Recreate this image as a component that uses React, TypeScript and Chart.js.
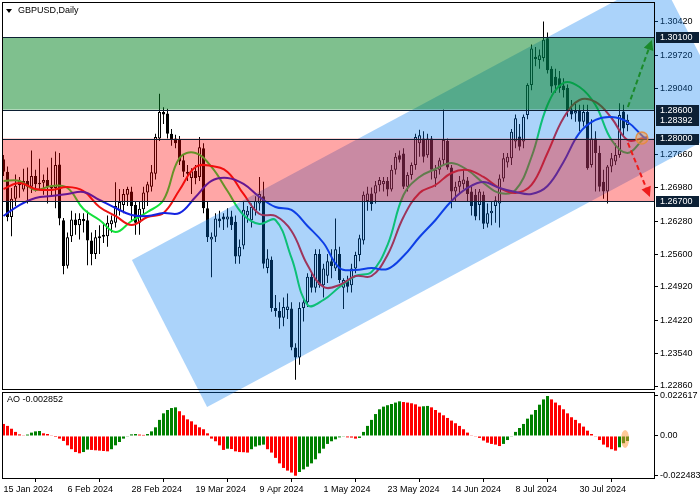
import React, { useEffect, useRef } from 'react';
import { Chart, registerables } from 'chart.js';
Chart.register(...registerables);

const FONT = "'Liberation Sans', Arial, sans-serif";

// ---- Daily candles, GBPUSD (bar 0 = 15 Jan 2024) ----
const opens = [
  1.2757,1.2731,1.2637,1.2675,1.2713,1.2694,1.2712,1.2700,1.2722,1.2705,
  1.2708,1.2714,1.2700,1.2697,1.2746,1.2630,1.2536,1.2597,1.2632,1.2620,
  1.2633,1.2630,1.2588,1.2560,1.2593,1.2600,1.2597,1.2622,1.2625,1.2650,
  1.2662,1.2683,1.2690,1.2662,1.2625,1.2653,1.2688,1.2700,1.2727,1.2800,
  1.2855,1.2852,1.2810,1.2800,1.2797,1.2755,1.2731,1.2718,1.2733,1.2720,
  1.2780,1.2655,1.2590,1.2596,1.2634,1.2638,1.2632,1.2638,1.2627,1.2555,
  1.2578,1.2640,1.2630,1.2650,1.2665,1.2680,1.2531,1.2548,1.2448,1.2442,
  1.2428,1.2444,1.2447,1.2366,1.2345,1.2448,1.2460,1.2513,1.2490,1.2560,
  1.2495,1.2515,1.2545,1.2530,1.2560,1.2490,1.2506,1.2495,1.2530,1.2558,
  1.2588,1.2670,1.2686,1.2686,1.2703,1.2705,1.2712,1.2694,1.2735,1.2765,
  1.2769,1.2700,1.2724,1.2745,1.2790,1.2800,1.2765,1.2800,1.2717,1.2735,
  1.2755,1.2795,1.2740,1.2690,1.2700,1.2705,1.2713,1.2690,1.2683,1.2662,
  1.2683,1.2623,1.2645,1.2660,1.2665,1.2717,1.2750,1.2759,1.2794,1.2804,
  1.2794,1.2849,1.2911,1.2970,1.2963,1.2967,1.3008,1.2945,1.2928,1.2925,
  1.2910,1.2905,1.2860,1.2852,1.2857,1.2835,1.2855,1.2745,1.2800,1.2770,
  1.2710,1.2690,1.2742,1.2752,1.2766,1.2856,1.2828
];
const highs = [
  1.2766,1.2742,1.2697,1.2725,1.2720,1.2737,1.2740,1.2775,1.2735,1.2758,
  1.2725,1.2740,1.2760,1.2773,1.2770,1.2635,1.2605,1.2650,1.2645,1.2645,
  1.2645,1.2650,1.2605,1.2610,1.2620,1.2625,1.2640,1.2640,1.2709,1.2695,
  1.2695,1.2700,1.2700,1.2670,1.2670,1.2700,1.2710,1.2745,1.2810,1.2893,
  1.2865,1.2862,1.2820,1.2808,1.2805,1.2768,1.2745,1.2738,1.2745,1.2803,
  1.2790,1.2670,1.2605,1.2645,1.2650,1.2645,1.2655,1.2650,1.2640,1.2590,
  1.2670,1.2660,1.2665,1.2680,1.2720,1.2710,1.2570,1.2555,1.2475,1.2460,
  1.2470,1.2478,1.2460,1.2375,1.2460,1.2465,1.2520,1.2525,1.2570,1.2570,
  1.2540,1.2560,1.2570,1.2634,1.2575,1.2510,1.2515,1.2540,1.2565,1.2600,
  1.2690,1.2700,1.2698,1.2712,1.2720,1.2720,1.2720,1.2745,1.2770,1.2775,
  1.2780,1.2730,1.2750,1.2810,1.2818,1.2815,1.2810,1.2805,1.2745,1.2760,
  1.2860,1.2800,1.2745,1.2710,1.2722,1.2735,1.2720,1.2700,1.2695,1.2695,
  1.2690,1.2665,1.2670,1.2680,1.2725,1.2770,1.2770,1.2820,1.2850,1.2830,
  1.2850,1.2915,1.2995,1.2990,1.2985,1.3043,1.3020,1.2950,1.2945,1.2940,
  1.2925,1.2912,1.2880,1.2872,1.2870,1.2870,1.2870,1.2840,1.2815,1.2785,
  1.2735,1.2745,1.2770,1.2790,1.2873,1.2870,1.2850
];
const lows = [
  1.2722,1.2628,1.2597,1.2660,1.2677,1.2690,1.2665,1.2687,1.2690,1.2692,
  1.2683,1.2665,1.2680,1.2655,1.2620,1.2518,1.2530,1.2585,1.2600,1.2590,
  1.2605,1.2537,1.2537,1.2550,1.2560,1.2583,1.2575,1.2605,1.2615,1.2640,
  1.2645,1.2660,1.2630,1.2600,1.2600,1.2640,1.2660,1.2690,1.2715,1.2795,
  1.2830,1.2800,1.2785,1.2780,1.2745,1.2720,1.2712,1.2685,1.2705,1.2712,
  1.2645,1.2585,1.2512,1.2585,1.2615,1.2610,1.2615,1.2610,1.2540,1.2540,
  1.2570,1.2625,1.2615,1.2640,1.2650,1.2530,1.2520,1.2440,1.2430,1.2405,
  1.2410,1.2425,1.2360,1.2299,1.2330,1.2420,1.2450,1.2480,1.2480,1.2490,
  1.2470,1.2500,1.2510,1.2525,1.2500,1.2446,1.2480,1.2480,1.2520,1.2545,
  1.2580,1.2650,1.2650,1.2665,1.2690,1.2690,1.2680,1.2690,1.2725,1.2750,
  1.2695,1.2690,1.2715,1.2735,1.2762,1.2750,1.2760,1.2715,1.2700,1.2725,
  1.2745,1.2735,1.2655,1.2670,1.2685,1.2695,1.2670,1.2640,1.2630,1.2630,
  1.2612,1.2615,1.2620,1.2625,1.2615,1.2710,1.2740,1.2745,1.2780,1.2775,
  1.2780,1.2840,1.2900,1.2950,1.2945,1.2960,1.2935,1.2895,1.2895,1.2895,
  1.2885,1.2845,1.2840,1.2835,1.2815,1.2825,1.2735,1.2740,1.2690,1.2690,
  1.2675,1.2665,1.2730,1.2745,1.2760,1.2805,1.2815
];
const closes = [
  1.2731,1.2637,1.2675,1.2702,1.2703,1.2712,1.2700,1.2722,1.2705,1.2708,
  1.2714,1.2700,1.2696,1.2745,1.2634,1.2535,1.2595,1.2632,1.2620,1.2633,
  1.2628,1.2588,1.2560,1.2595,1.2597,1.2596,1.2625,1.2630,1.2660,1.2668,
  1.2685,1.2695,1.2660,1.2625,1.2654,1.2688,1.2705,1.2730,1.2803,1.2855,
  1.2850,1.2810,1.2797,1.2790,1.2752,1.2731,1.2727,1.2732,1.2718,1.2782,
  1.2655,1.2595,1.2596,1.2634,1.2628,1.2632,1.2638,1.2620,1.2555,1.2575,
  1.2652,1.2650,1.2658,1.2670,1.2685,1.2540,1.2551,1.2448,1.2442,1.2428,
  1.2450,1.2451,1.2366,1.2345,1.2448,1.2460,1.2513,1.2490,1.2560,1.2495,
  1.2530,1.2545,1.2535,1.2570,1.2506,1.2506,1.2492,1.2530,1.2558,1.2593,
  1.2683,1.2686,1.2664,1.2703,1.2714,1.2712,1.2694,1.2735,1.2762,1.2756,
  1.2700,1.2724,1.2745,1.2803,1.2807,1.2762,1.2800,1.2735,1.2735,1.2755,
  1.2797,1.2740,1.2690,1.2700,1.2712,1.2715,1.2685,1.2660,1.2638,1.2690,
  1.2623,1.2645,1.2650,1.2672,1.2717,1.2759,1.2762,1.2814,1.2842,1.2783,
  1.2845,1.2911,1.2987,1.2965,1.2973,1.3005,1.2942,1.2908,1.2910,1.2905,
  1.2900,1.2858,1.2850,1.2857,1.2835,1.2855,1.2738,1.2800,1.2770,1.2700,
  1.2690,1.2742,1.2759,1.2766,1.2849,1.2821,1.2839
];

// ---- Alligator lines (read every 4 bars) ----
const lineBars = [0,4,8,12,16,20,24,28,32,36,40,44,48,52,56,60,64,68,72,76,80,84,88,92,96,100,104,108,112,116,120,124,128,132,136,140,144,148,152,156,160,161];
const jaw = [1.26391,1.26619,1.26765,1.26806,1.26848,1.26889,1.26723,1.26557,1.26412,1.26391,1.26453,1.26453,1.26786,1.27118,1.27180,1.27056,1.26786,1.26578,1.26516,1.26183,1.25830,1.25311,1.25270,1.25311,1.25290,1.25560,1.25954,1.26308,1.26702,1.26973,1.27097,1.26973,1.26889,1.26848,1.27014,1.27513,1.28115,1.28385,1.28447,1.28343,1.28032,1.27990];
const teeth = [1.26952,1.27076,1.26952,1.26931,1.26993,1.26910,1.26578,1.26391,1.26204,1.26370,1.26453,1.26931,1.27409,1.27429,1.27305,1.26848,1.26432,1.26391,1.26079,1.25373,1.24917,1.24958,1.25145,1.25145,1.25581,1.26370,1.26869,1.27035,1.27284,1.27346,1.27201,1.26973,1.26869,1.27035,1.27699,1.28426,1.28800,1.28759,1.28426,1.27969,1.28011,1.28030];
const lips = [1.27118,1.27118,1.26931,1.27014,1.26973,1.26536,1.26308,1.26058,1.26287,1.26474,1.26723,1.27596,1.27699,1.27409,1.26910,1.26412,1.26225,1.26308,1.25519,1.24543,1.24647,1.24917,1.25145,1.25228,1.25788,1.26827,1.27201,1.27367,1.27492,1.27346,1.27076,1.26869,1.26931,1.27616,1.28696,1.29153,1.29070,1.28696,1.27969,1.27699,1.27990,1.28030];

// ---- Awesome Oscillator ----
const aoValues = [
  0.0068,0.0057,0.0041,0.0023,0.0009,0.0004,0.0008,0.0019,0.0026,0.0028,
  0.0015,0.0011,0.0004,-0.0006,-0.0015,-0.0028,-0.0053,-0.0075,-0.0091,-0.0098,
  -0.0091,-0.0077,-0.0079,-0.0081,-0.0083,-0.0085,-0.0087,-0.0075,-0.0053,-0.0034,
  -0.0015,-0.0004,0.0009,0.0011,0.0008,0.0006,0.0011,0.0026,0.0049,0.0091,
  0.0128,0.0147,0.0158,0.0162,0.0140,0.0117,0.0094,0.0083,0.0064,0.0049,
  0.0038,0.0015,-0.0015,-0.0030,-0.0053,-0.0079,-0.0072,-0.0074,-0.0087,-0.0091,
  -0.0092,-0.0094,-0.0075,-0.0060,-0.0053,-0.0049,-0.0075,-0.0094,-0.0124,-0.0155,
  -0.0181,-0.0196,-0.0207,-0.022483,-0.0204,-0.0189,-0.0174,-0.0155,-0.0132,-0.0098,
  -0.0072,-0.0045,-0.0030,-0.0019,-0.0008,-0.0004,-0.0008,-0.0009,-0.0015,-0.0011,
  0.0023,0.0057,0.0091,0.0124,0.0151,0.0166,0.0174,0.0181,0.0189,0.0196,
  0.0192,0.0189,0.0185,0.0179,0.0166,0.0168,0.0170,0.0162,0.0147,0.0132,
  0.0117,0.0102,0.0087,0.0072,0.0057,0.0038,0.0019,0.0004,-0.0004,-0.0011,
  -0.0026,-0.0038,-0.0045,-0.0049,-0.0057,-0.0045,-0.0023,-0.0004,0.0023,0.0045,
  0.0068,0.0098,0.0121,0.0147,0.0177,0.0207,0.022617,0.0207,0.0189,0.0174,
  0.0151,0.0128,0.0106,0.0091,0.0072,0.0053,0.0030,0.0011,-0.0004,-0.0023,
  -0.0049,-0.0064,-0.0075,-0.0083,-0.0064,-0.0041,-0.002852
];

// ---- Axes ----
const dateTickBars = [0, 16, 32, 48, 64, 80, 96, 112, 128, 144];
const dateTickLabels = ['15 Jan 2024','6 Feb 2024','28 Feb 2024','19 Mar 2024','9 Apr 2024','1 May 2024','23 May 2024','14 Jun 2024','8 Jul 2024','30 Jul 2024'];
const priceTicks = [1.3042, 1.2972, 1.2904, 1.2766, 1.2698, 1.2628, 1.256, 1.2492, 1.2422, 1.2354, 1.2286];
const aoTicks = [0.022617, 0, -0.022483];
const aoTickLabels = ['0.022617', '0.00', '-0.022483'];
const aoCurrentLabel = 'AO -0.002852';
const titleText = 'GBPUSD,Daily';

// ---- Drawn objects (data coordinates) ----
const levelPrices = [1.301, 1.286, 1.28, 1.267];
const markedPrices = [1.301, 1.286, 1.28392, 1.28, 1.267];
const greenZone = [1.286, 1.301];
const redZone = [1.267, 1.28];
const channelBars = [32.1, 50.9, 182.9, 164.1];
const channelPrices = [1.25477, 1.22424, 1.28302, 1.31355];
const upArrowBars = [156.1, 162.1];
const upArrowPrices = [1.28655, 1.30046];
const downArrowBars = [156.1, 161.6];
const downArrowPrices = [1.27907, 1.26786];
const markerBar = 159.6;
const markerPrice = 1.2801;
const aoMarkerBar = 155.4;
const aoMarkerValue = -0.0017;

const PRICE_MIN = 1.22777, PRICE_MAX = 1.30835;
const AO_MIN = -0.02435, AO_MAX = 0.02488;
const BAR_MIN = -0.375, BAR_MAX = 162.625;

function drawArrow(ctx: CanvasRenderingContext2D, x1: number, y1: number, x2: number, y2: number, color: string) {
  const ang = Math.atan2(y2 - y1, x2 - x1);
  const head = 10;
  const bx = x2 - head * Math.cos(ang), by = y2 - head * Math.sin(ang);
  ctx.save();
  ctx.strokeStyle = color;
  ctx.lineWidth = 2;
  ctx.setLineDash([5, 3]);
  ctx.beginPath();
  ctx.moveTo(x1, y1);
  ctx.lineTo(bx, by);
  ctx.stroke();
  ctx.setLineDash([]);
  ctx.fillStyle = color;
  ctx.beginPath();
  ctx.moveTo(x2, y2);
  ctx.lineTo(bx + 5 * Math.sin(ang), by - 5 * Math.cos(ang));
  ctx.lineTo(bx - 5 * Math.sin(ang), by + 5 * Math.cos(ang));
  ctx.closePath();
  ctx.fill();
  ctx.restore();
}

const overlayPlugin = {
  id: 'mainOverlay',
  afterDatasetsDraw(chart: any) {
    const { ctx, chartArea: a } = chart;
    const xs = chart.scales.x, ys = chart.scales.y;
    const px = (b: number) => xs.getPixelForValue(b);
    const py = (p: number) => ys.getPixelForValue(p);
    ctx.save();
    // regression channel
    ctx.beginPath();
    channelBars.forEach((b, k) => {
      const X = px(b), Y = py(channelPrices[k]);
      if (k === 0) ctx.moveTo(X, Y); else ctx.lineTo(X, Y);
    });
    ctx.closePath();
    ctx.fillStyle = 'rgba(0,120,240,0.33)';
    ctx.fill();

    ctx.save();
    ctx.beginPath();
    ctx.rect(a.left, a.top, a.right - a.left, a.bottom - a.top);
    ctx.clip();
    ctx.fillStyle = 'rgba(0,130,30,0.5)';
    ctx.fillRect(a.left, py(greenZone[1]), a.right - a.left, py(greenZone[0]) - py(greenZone[1]));
    ctx.fillStyle = 'rgba(255,0,0,0.35)';
    ctx.fillRect(a.left, py(redZone[1]), a.right - a.left, py(redZone[0]) - py(redZone[1]));
    ctx.strokeStyle = '#0c1f33';
    ctx.lineWidth = 1;
    levelPrices.forEach((p) => {
      const Y = Math.round(py(p)) + 0.5;
      ctx.beginPath();
      ctx.moveTo(a.left, Y);
      ctx.lineTo(a.right, Y);
      ctx.stroke();
    });
    drawArrow(ctx, px(upArrowBars[0]), py(upArrowPrices[0]), px(upArrowBars[1]), py(upArrowPrices[1]), '#1a8a2a');
    drawArrow(ctx, px(downArrowBars[0]), py(downArrowPrices[0]), px(downArrowBars[1]), py(downArrowPrices[1]), '#ee1c1c');
    ctx.beginPath();
    ctx.arc(px(markerBar), py(markerPrice), 6, 0, Math.PI * 2);
    ctx.fillStyle = 'rgba(255,150,60,0.45)';
    ctx.fill();
    ctx.strokeStyle = 'rgba(230,140,60,0.9)';
    ctx.lineWidth = 1.5;
    ctx.stroke();
    ctx.restore();
    ctx.restore();
  },
  afterDraw(chart: any) {
    const { ctx, chartArea: a } = chart;
    const ys = chart.scales.y;
    ctx.save();
    ctx.strokeStyle = '#000';
    ctx.lineWidth = 1;
    ctx.strokeRect(a.left + 0.5, a.top + 0.5, a.right - a.left, a.bottom - a.top - 1);
    // title
    ctx.fillStyle = '#000';
    ctx.beginPath();
    ctx.moveTo(a.left + 4, a.top + 7);
    ctx.lineTo(a.left + 10, a.top + 7);
    ctx.lineTo(a.left + 7, a.top + 11);
    ctx.closePath();
    ctx.fill();
    ctx.font = `9px ${FONT}`;
    ctx.textBaseline = 'middle';
    ctx.textAlign = 'left';
    ctx.fillText(titleText, a.left + 16, a.top + 9);
    // marked price labels
    markedPrices.forEach((p) => {
      const Y = ys.getPixelForValue(p);
      ctx.fillStyle = '#0c2035';
      ctx.fillRect(a.right + 2, Math.round(Y) - 5, 43, 11);
      ctx.fillStyle = '#ffffff';
      ctx.fillText(p.toFixed(5), a.right + 6, Y + 0.5);
    });
    ctx.restore();
  },
};

const aoPlugin = {
  id: 'aoOverlay',
  afterDraw(chart: any) {
    const { ctx, chartArea: a } = chart;
    const xs = chart.scales.x, ys = chart.scales.y;
    ctx.save();
    ctx.strokeStyle = '#000';
    ctx.lineWidth = 1;
    ctx.strokeRect(a.left + 0.5, a.top + 0.5, a.right - a.left, a.bottom - a.top - 1);
    ctx.fillStyle = '#000';
    ctx.font = `9px ${FONT}`;
    ctx.textBaseline = 'middle';
    ctx.textAlign = 'left';
    ctx.fillText(aoCurrentLabel, a.left + 5, a.top + 8);
    ctx.beginPath();
    ctx.ellipse(xs.getPixelForValue(aoMarkerBar), ys.getPixelForValue(aoMarkerValue), 4, 9, 0, 0, Math.PI * 2);
    ctx.fillStyle = 'rgba(255,150,50,0.5)';
    ctx.fill();
    ctx.restore();
  },
};

export default function App() {
  const mainRef = useRef<HTMLCanvasElement>(null);
  const aoRef = useRef<HTMLCanvasElement>(null);

  useEffect(() => {
    Chart.defaults.font.family = FONT;
    const idx = closes.map((_, i) => i);
    const wickData = idx.map((i) => ({ x: i, y: [lows[i], highs[i]] }));
    const bodyData = idx.map((i) => ({ x: i, y: [Math.min(opens[i], closes[i]), Math.max(opens[i], closes[i])] }));
    const bodyColors = idx.map((i) => (closes[i] >= opens[i] ? '#ffffff' : '#000000'));
    const lineSet = (label: string, vals: number[], color: string) => ({
      type: 'line' as const,
      label,
      data: lineBars.map((b, k) => ({ x: b, y: vals[k] })),
      borderColor: color,
      borderWidth: 2,
      pointRadius: 0,
      tension: 0.4,
      fill: false,
      order: 1,
    });

    const main = new Chart(mainRef.current as HTMLCanvasElement, {
      type: 'bar',
      data: {
        datasets: [
          lineSet('Jaw', jaw, 'rgb(20,35,225)'),
          lineSet('Teeth', teeth, 'rgb(235,20,20)'),
          lineSet('Lips', lips, 'rgb(20,225,60)'),
          { type: 'bar', label: 'wick', data: wickData as any, backgroundColor: '#000', barThickness: 1, grouped: false, inflateAmount: 0, order: 3 } as any,
          { type: 'bar', label: 'body', data: bodyData as any, backgroundColor: bodyColors, borderColor: '#000', borderWidth: 1, borderSkipped: false, barThickness: 3, grouped: false, inflateAmount: 0, order: 2 } as any,
        ],
      },
      options: {
        animation: false,
        responsive: false,
        devicePixelRatio: 1,
        events: [],
        layout: { padding: { left: 2, top: 2, right: 0, bottom: 110 } },
        plugins: { legend: { display: false }, tooltip: { enabled: false } },
        scales: {
          x: { type: 'linear', min: BAR_MIN, max: BAR_MAX, display: false, offset: false },
          y: {
            type: 'linear', position: 'right', min: PRICE_MIN, max: PRICE_MAX, z: 1,
            afterFit: (s: any) => { s.width = 46; s.paddingTop = 0; s.paddingBottom = 0; },
            afterBuildTicks: (s: any) => { s.ticks = priceTicks.map((v) => ({ value: v })); },
            ticks: { callback: (v: any) => Number(v).toFixed(5), font: { family: FONT, size: 9 }, color: '#000', padding: 2, autoSkip: false },
            grid: { drawOnChartArea: false, drawTicks: true, tickLength: 4, color: '#000' },
            border: { display: false },
          },
        },
      } as any,
      plugins: [overlayPlugin],
    });

    const aoColors = aoValues.map((v, i) => (i > 0 && v > aoValues[i - 1] ? '#008000' : '#ff0000'));
    const ao = new Chart(aoRef.current as HTMLCanvasElement, {
      type: 'bar',
      data: {
        datasets: [
          { label: 'AO', data: aoValues.map((v, i) => ({ x: i, y: v })) as any, backgroundColor: aoColors, borderWidth: 0, barThickness: 3, inflateAmount: 0 } as any,
        ],
      },
      options: {
        animation: false,
        responsive: false,
        devicePixelRatio: 1,
        events: [],
        layout: { padding: { left: 2, top: 392, right: 0, bottom: 0 } },
        plugins: { legend: { display: false }, tooltip: { enabled: false } },
        scales: {
          x: {
            type: 'linear', min: BAR_MIN, max: BAR_MAX, offset: false,
            afterFit: (s: any) => { s.height = 21; s.paddingLeft = 0; s.paddingRight = 0; },
            afterBuildTicks: (s: any) => { s.ticks = dateTickBars.map((v) => ({ value: v })); },
            ticks: {
              callback: (v: any) => { const k = dateTickBars.indexOf(Number(v)); return k >= 0 ? dateTickLabels[k] : ''; },
              align: 'start', autoSkip: false, maxRotation: 0, minRotation: 0, padding: 2,
              font: { family: FONT, size: 9 }, color: '#000',
            },
            grid: { drawOnChartArea: false, drawTicks: true, tickLength: 3, color: '#000' },
            border: { display: false },
          },
          y: {
            type: 'linear', position: 'right', min: AO_MIN, max: AO_MAX,
            afterFit: (s: any) => { s.width = 46; s.paddingTop = 0; s.paddingBottom = 0; },
            afterBuildTicks: (s: any) => { s.ticks = aoTicks.map((v) => ({ value: v })); },
            ticks: {
              callback: (v: any) => { const k = aoTicks.indexOf(Number(v)); return k >= 0 ? aoTickLabels[k] : ''; },
              font: { family: FONT, size: 9 }, color: '#000', padding: 2, autoSkip: false,
            },
            grid: { drawOnChartArea: false, drawTicks: true, tickLength: 4, color: '#000' },
            border: { display: false },
          },
        },
      } as any,
      plugins: [aoPlugin],
    });

    return () => { main.destroy(); ao.destroy(); };
  }, []);

  return (
    <div style={{ position: 'fixed', left: 0, top: 0, width: 700, height: 500, background: '#fff' }}>
      <canvas ref={aoRef} width={700} height={500} style={{ position: 'absolute', left: 0, top: 0 }} />
      <canvas ref={mainRef} width={700} height={500} style={{ position: 'absolute', left: 0, top: 0 }} />
    </div>
  );
}
